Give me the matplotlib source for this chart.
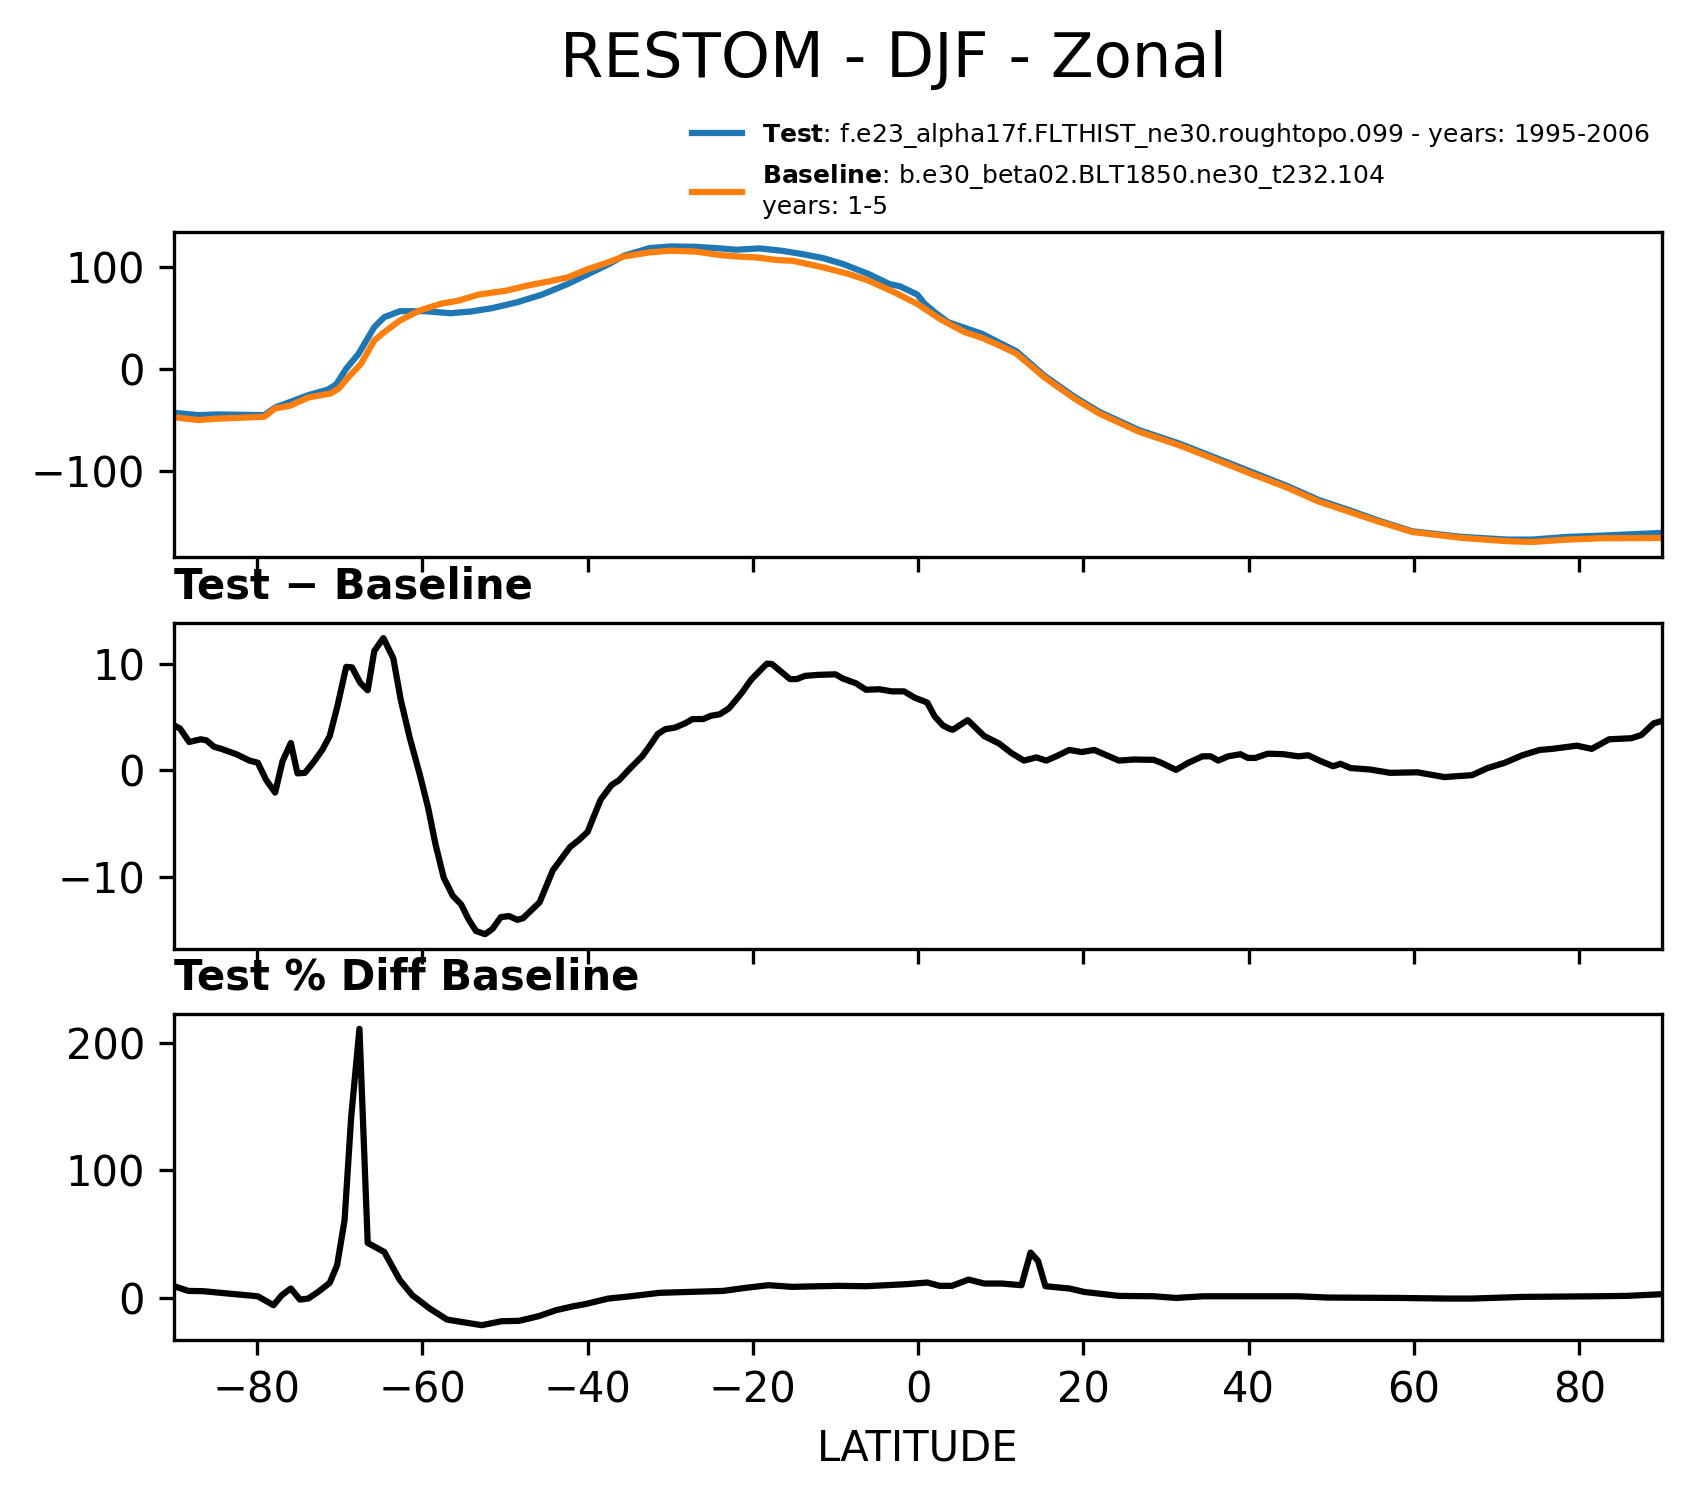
import matplotlib
matplotlib.use("Agg")
import matplotlib.pyplot as plt
import numpy as np

# ---------------- data ----------------
test_lat = [-90, -87.1, -84.9, -79.1, -77.8, -76.3, -73.8, -71.4, -70.4, -69.2, -67.7, -65.8,
            -64.6, -62.7, -59.6, -56.6, -54.1, -51.6, -48.5, -45.5, -42.4, -39.9, -37.4, -35.6,
            -32.5, -30.0, -27.0, -23.9, -22.0, -19.2, -16.5, -14.0, -11.5, -9.1, -6.0, -3.5,
            -2.2, -0.1, 0.8, 2.0, 3.6, 5.6, 7.7, 11.9, 15.2, 18.9, 21.9, 26.7, 31.5, 35.1,
            39.9, 44.8, 48.4, 52.0, 55.6, 59.8, 65.8, 71.3, 74.3, 78.5, 82.7, 89.9]
test_val = [-42.7, -45, -44.3, -45, -37.5, -33, -25.4, -19.9, -14.7, 0.6, 15.3, 41.4,
            51.1, 57, 57, 55, 56.7, 59.9, 65.8, 73.3, 83.7, 93.5, 103.3, 111.4,
            118.9, 120.5, 120.2, 118.6, 117.3, 118.6, 116.3, 113, 109.1, 103.3, 93.5, 83.7,
            81.4, 73.3, 64.2, 56, 46.3, 40.7, 34.9, 17.6, -5.9, -27.0, -41.7, -59.6, -72.6, -84.0,
            -99.3, -115.0, -128, -137.8, -148.2, -159, -164.5, -167.1, -167.1, -164.5, -163.2, -160.6]

base_lat = [-90, -87.1, -84.9, -79.1, -77.8, -76.0, -73.8, -71.1, -70.1, -68.9, -67.4, -65.8,
            -64.6, -62.7, -60.3, -57.8, -55.6, -53.2, -49.8, -47.3, -44.2, -42.4, -39.9, -38.1,
            -35.6, -32.5, -30.0, -27.0, -23.9, -21.4, -19.6, -17.1, -15.2, -11.5, -8.4, -6.0,
            -2.9, -0.1, 2.6, 5.6, 7.7, 9.8, 11.9, 15.2, 18.9, 21.9, 26.7, 31.5, 35.1, 39.9,
            44.8, 48.4, 52.0, 55.6, 59.8, 65.8, 71.3, 74.3, 78.5, 82.7, 89.9]
base_val = [-47.2, -49.8, -48.5, -46.6, -38.4, -35.8, -27.7, -23.8, -18.9, -7.5, 5.5, 28.3,
            36.5, 47.9, 57.7, 64.2, 67.4, 73.3, 77.2, 82.1, 87, 90.2, 98.4, 103.3,
            110.7, 114.7, 116.3, 115.6, 112, 110.4, 109.8, 107.2, 106.5, 100, 93.5, 87,
            75.6, 64.2, 49.5, 36.5, 30.9, 23.5, 15.3, -7.5, -28.7, -43.3, -61.2, -74.3, -85.7, -101.3,
            -116.6, -129.6, -139.4, -149.2, -159.6, -165.5, -168.7, -169.4, -167.1, -165.8, -165.5]

diff_lat = [-90.0, -89.3, -88.2, -86.8, -86.1, -85.2, -84.3, -82.5, -80.9, -79.9, -78.9, -77.8,
            -76.9, -75.9, -75.1, -74.2, -73.2, -72.1, -71.2, -70.3, -69.2, -68.5, -67.5, -66.6,
            -65.8, -64.7, -63.5, -62.6, -61.5, -60.3, -59.3, -58.4, -57.4, -56.3, -55.3, -54.4,
            -53.5, -52.4, -51.5, -50.5, -49.5, -48.5, -47.8, -45.8, -44.2, -42.1, -41.1, -40.0,
            -39.3, -38.4, -37.1, -36.2, -35.0, -33.4, -32.5, -31.5, -30.6, -29.4, -28.2, -27.3,
            -26.0, -25.1, -24.0, -22.9, -21.4, -20.2, -19.2, -18.3, -17.7, -15.5, -14.7, -13.7,
            -12.1, -10.0, -9.1, -7.5, -6.3, -4.7, -3.2, -1.7, -0.4, 1.1, 2.0, 3.0,
            3.9, 4.2, 6.0, 6.8, 8.0, 9.8, 11.3, 12.8, 14.3, 15.5, 16.7, 18.3,
            19.8, 21.3, 22.5, 24.3, 26.1, 28.5, 29.4, 31.2, 32.7, 34.4, 35.4, 36.3,
            37.5, 39.0, 39.9, 40.8, 42.3, 44.2, 46.0, 47.2, 48.7, 50.2, 51.1, 52.3,
            54.7, 57.1, 60.4, 61.9, 63.7, 65.2, 67.0, 68.9, 71.0, 73.1, 75.2, 76.7,
            79.7, 81.5, 83.6, 86.3, 87.5, 89.0, 89.9]
diff_val = [4.2, 3.9, 2.65, 2.9, 2.8, 2.2, 2.0, 1.5, 0.9, 0.7, -0.9, -2.1,
            0.85, 2.55, -0.3, -0.25, 0.7, 1.9, 3.2, 5.9, 9.7, 9.65, 8.2, 7.5,
            11.2, 12.4, 10.5, 6.6, 3.0, -0.4, -3.5, -6.95, -10.1, -11.8, -12.6, -14.0,
            -15.1, -15.4, -14.9, -13.8, -13.7, -14.05, -13.9, -12.4, -9.4, -7.2, -6.6, -5.8,
            -4.45, -2.75, -1.4, -0.95, 0.05, 1.3, 2.25, 3.4, 3.85, 4.0, 4.4, 4.8,
            4.8, 5.1, 5.25, 5.8, 7.2, 8.5, 9.3, 10.0, 9.97, 8.55, 8.55, 8.85,
            8.95, 9.0, 8.6, 8.15, 7.55, 7.6, 7.4, 7.4, 6.8, 6.35, 5.05, 4.2,
            3.85, 3.8, 4.7, 4.1, 3.2, 2.5, 1.6, 0.9, 1.2, 0.9, 1.3, 1.9,
            1.7, 1.9, 1.5, 0.9, 1.0, 0.97, 0.7, 0.03, 0.7, 1.3, 1.3, 0.9,
            1.3, 1.5, 1.15, 1.15, 1.55, 1.5, 1.3, 1.4, 0.85, 0.37, 0.6, 0.2,
            0.06, -0.25, -0.2, -0.4, -0.65, -0.56, -0.47, 0.2, 0.7, 1.4, 1.9, 2.0,
            2.3, 2.0, 2.9, 3.0, 3.3, 4.4, 4.6]

pct_lat = [-90, -88.3, -86.5, -83.4, -79.9, -78.0, -77.0, -75.9, -74.8, -73.8, -72.6, -71.2,
           -70.3, -69.4, -68.6, -67.6, -66.6, -64.6, -62.7, -61.2, -59.1, -57.0, -55.3, -52.8,
           -50.4, -48.3, -45.9, -43.8, -41.7, -40.3, -37.5, -34.8, -31.3, -27.8, -23.6, -20.9,
           -18.1, -15.3, -9.7, -6.3, -1.4, 1.1, 2.6, 4.1, 6.1, 8.0, 10.1, 12.5,
           13.6, 14.5, 15.4, 18.3, 20.1, 24.3, 28.5, 31.2, 34.5, 39.9, 46.0, 49.6,
           58.0, 64.0, 67.0, 73.1, 82.1, 85.7, 89.9]
pct_val = [8.9, 5.2, 5.0, 3.1, 1.0, -6.0, 1.8, 7.1, -1.6, -0.8, 4.4, 11.5,
           25.4, 60.7, 141.7, 211, 42.9, 35.8, 13.6, 1.8, -8.6, -17.3, -19.1, -21.7,
           -18.6, -18.3, -14.6, -9.9, -6.8, -5.2, -0.8, 1.0, 3.7, 4.4, 5.2, 7.6,
           9.7, 8.4, 9.2, 8.9, 10.5, 11.8, 9.2, 9.2, 14.1, 11.0, 11.0, 9.7,
           35.3, 28.8, 8.9, 7.1, 4.4, 1.3, 1.0, -0.3, 1.0, 1.0, 1.0, 0.0,
           -0.3, -0.8, -0.8, 0.5, 1.0, 1.3, 2.6]

xticks = [-80, -60, -40, -20, 0, 20, 40, 60, 80]
yticks_top = [-100, 0, 100]
yticks_mid = [-10, 0, 10]
yticks_bot = [0, 100, 200]

test_label = r"$\bf{Test}$: f.e23_alpha17f.FLTHIST_ne30.roughtopo.099 - years: 1995-2006"
base_label = r"$\bf{Baseline}$: b.e30_beta02.BLT1850.ne30_t232.104" + "\nyears: 1-5"
title = "RESTOM - DJF - Zonal"

# ---------------- figure ----------------
W, H = 1691, 1496
fig = plt.figure(figsize=(W / 300, H / 300), dpi=300)

left = 174.3 / W
width = (1662 - 174.3) / W
ax1 = fig.add_axes([left, 1 - 556.7 / H, width, 325 / H])
ax2 = fig.add_axes([left, 1 - 949 / H, width, 325.7 / H])
ax3 = fig.add_axes([left, 1 - 1340 / H, width, 326 / H])

ax1.plot(test_lat, test_val, color="#1f77b4", linewidth=1.5, label=test_label)
ax1.plot(base_lat, base_val, color="#ff7f0e", linewidth=1.5, label=base_label)
ax1.set_yticks(yticks_top)
ax1.legend(loc="lower right", bbox_to_anchor=(1.0, 1.0), frameon=False, fontsize=6,
           borderpad=0.0)

ax2.plot(diff_lat, diff_val, color="black", linewidth=1.5)
ax2.set_yticks(yticks_mid)
ax2.set_title("Test \u2212 Baseline", loc="left", fontweight="bold", fontsize=10)

ax3.plot(pct_lat, pct_val, color="black", linewidth=1.5)
ax3.set_yticks(yticks_bot)
ax3.set_title("Test % Diff Baseline", loc="left", fontweight="bold", fontsize=10)
ax3.set_xlabel("LATITUDE")

for ax in (ax1, ax2, ax3):
    ax.set_xlim(-90, 90)
    ax.set_xticks(xticks)
for ax in (ax1, ax2):
    ax.tick_params(labelbottom=False)

fig.text(893.6 / W, 1 - 76.7 / H, title, fontsize=15, ha="center", va="baseline")

fig.savefig("out.png", dpi=300)
